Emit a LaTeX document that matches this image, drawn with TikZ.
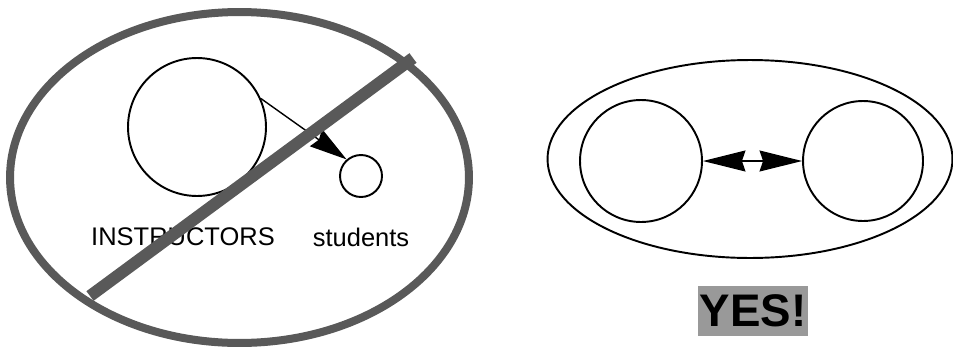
\documentclass[tikz,border=0pt]{standalone}
\usepackage{fontspec}
\setmainfont{Liberation Sans}
\usepackage{tikz}
\usetikzlibrary{shapes.geometric, arrows.meta, positioning, calc}

\begin{document}
\begin{tikzpicture}[
        x=0.02cm, y=-0.02cm,
        % Define a uniform style for the circles
        person/.style={
            circle,
            draw=black,
            line width=1.1pt,
            inner sep=0pt
        },
        group/.style={
            ellipse,
            inner sep=0pt
        },
        label/.style={
            font=\fontsize{14.5}{17}\selectfont,
            inner sep=0pt
        },
        arrow/.style={
            -{Stealth[length=7.5mm, width=4.2mm, inset=0.7mm]},
            line width=0.8pt
        },
        dblarrow/.style={
            {Stealth[length=8.5mm, width=4.2mm, inset=0.7mm]}-{Stealth[length=8.5mm, width=4.2mm, inset=0.7mm]},
            line width=0.8pt
        }
    ]
    \useasboundingbox (0,0) rectangle (953,352);

    % Left picture: the crossed-out one
    \node (oldway) [group, draw=black!65, line width=0.16cm,
        minimum width=9.18cm, minimum height=6.62cm] at (239.5,177.5) {};
    \node (instr) [person, minimum size=2.76cm] at (197,127) {};
    \node (stud) [person, minimum size=0.84cm] at (361,176) {};
    \node (instrtxt) [label] at (183,237) {INSTRUCTORS};
    \node (studtxt) [label] at (361,237) {students};

    \draw [arrow] (instr.24) -- (stud.131);

    % Right picture: the good one
    \node (newway) [group, draw=black, line width=1.1pt,
        minimum width=8.1cm, minimum height=3.96cm] at (750,159) {};
    \node (left) [person, minimum size=2.44cm] at (641,161) {};
    \node (right) [person, minimum size=2.4cm] at (863,161) {};

    \draw [dblarrow] (left) -- (right);

    \node (yes) [fill=black!40, inner xsep=1pt, inner ysep=5pt,
        font=\bfseries\fontsize{26}{30}\selectfont] at (753,311) {YES!};

    % Strike through the left picture
    \coordinate (cutA) at (90,296);
    \coordinate (cutB) at (413,58);
    \draw [draw=black!65, line width=0.24cm] (cutA) -- (cutB);

\end{tikzpicture}
\end{document}
